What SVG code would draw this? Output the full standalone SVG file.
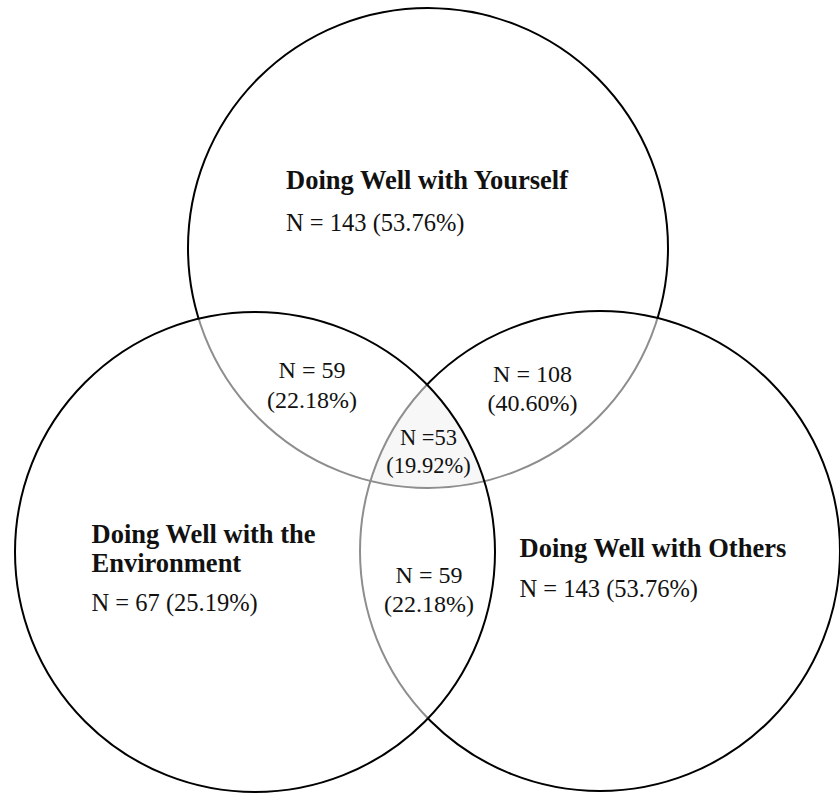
<svg xmlns="http://www.w3.org/2000/svg" width="840" height="794" viewBox="0 0 840 794">
  <style>
    .ring { fill: none; stroke-width: 2; }
    .blk { stroke: #000; }
    .gry { stroke: #8e8e8e; }
    .title { font-family: "Liberation Serif", "Times New Roman", serif; font-weight: bold; font-size: 26.5px; fill: #111; }
    .num { font-family: "Liberation Serif", "Times New Roman", serif; font-size: 24.5px; fill: #111; }
    .mid { font-family: "Liberation Serif", "Times New Roman", serif; font-size: 24px; fill: #111; text-anchor: middle; }
    .tri { font-family: "Liberation Serif", "Times New Roman", serif; font-size: 22.5px; fill: #111; text-anchor: middle; }
  </style>
  <defs>
    <clipPath id="clipL"><circle cx="255" cy="552" r="240"/></clipPath>
    <clipPath id="clipR"><circle cx="600" cy="551" r="240"/></clipPath>
    <clipPath id="clipLR"><circle cx="255" cy="552" r="240"/><circle cx="600" cy="551" r="240"/></clipPath>
    <mask id="outLR" maskUnits="userSpaceOnUse" x="0" y="0" width="840" height="794">
      <rect x="0" y="0" width="840" height="794" fill="#fff"/>
      <circle cx="255" cy="552" r="240" fill="#000"/>
      <circle cx="600" cy="551" r="240" fill="#000"/>
    </mask>
    <mask id="outL" maskUnits="userSpaceOnUse" x="0" y="0" width="840" height="794">
      <rect x="0" y="0" width="840" height="794" fill="#fff"/>
      <circle cx="255" cy="552" r="240" fill="#000"/>
    </mask>
  </defs>
  <rect x="0" y="0" width="840" height="794" fill="#fff"/>

  <!-- triple overlap tint -->
  <g clip-path="url(#clipR)">
    <g clip-path="url(#clipL)">
      <circle cx="428" cy="248" r="240" fill="#f7f7f7"/>
    </g>
  </g>

  <g id="yourself">
    <circle class="ring blk" cx="428" cy="248" r="240" mask="url(#outLR)"/>
    <circle class="ring gry" cx="428" cy="248" r="240" clip-path="url(#clipLR)"/>
    <text class="title" x="286" y="189">Doing Well with Yourself</text>
    <text class="num" x="286" y="231">N = 143 (53.76%)</text>
  </g>

  <g id="others">
    <circle class="ring blk" cx="600" cy="551" r="240" mask="url(#outL)"/>
    <circle class="ring gry" cx="600" cy="551" r="240" clip-path="url(#clipL)"/>
    <text class="title" x="519.5" y="557">Doing Well with Others</text>
    <text class="num" x="519.5" y="597">N = 143 (53.76%)</text>
  </g>

  <g id="environment">
    <circle class="ring blk" cx="255" cy="552" r="240"/>
    <text class="title" x="91.5" y="543">Doing Well with the</text>
    <text class="title" x="91.5" y="572">Environment</text>
    <text class="num" x="91.5" y="611">N = 67 (25.19%)</text>
  </g>

  <g id="yourself-environment">
    <text class="mid" x="312" y="378">N = 59</text>
    <text class="mid" x="312" y="408">(22.18%)</text>
  </g>

  <g id="yourself-others">
    <text class="mid" x="532.5" y="381.5">N = 108</text>
    <text class="mid" x="532.5" y="411">(40.60%)</text>
  </g>

  <g id="all-three">
    <text class="tri" x="428.5" y="445">N =53</text>
    <text class="tri" x="428.5" y="473">(19.92%)</text>
  </g>

  <g id="environment-others">
    <text class="mid" x="429" y="583">N = 59</text>
    <text class="mid" x="429" y="612">(22.18%)</text>
  </g>

  <g id="connectors"></g>
</svg>
